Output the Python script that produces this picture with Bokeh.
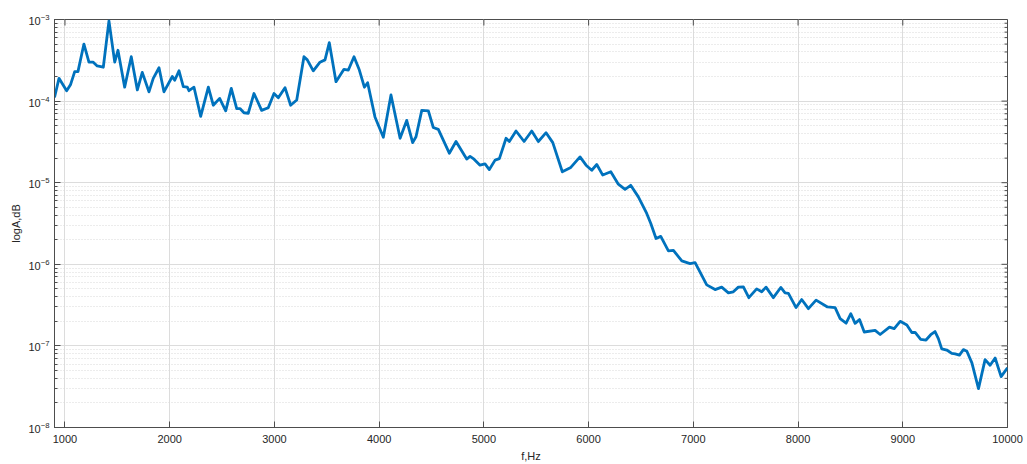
import math

from bokeh.plotting import figure
from bokeh.models import Range1d, FixedTicker, LogTicker
from bokeh.embed import file_html
from bokeh.resources import INLINE

# Spectrum samples: frequency (Hz) and amplitude
freq_hz = [
    900, 943, 1016, 1054, 1093, 1124, 1181, 1229, 1270, 1308, 1366, 1420, 1475, 1506,
    1570, 1633, 1691, 1738, 1802, 1843, 1898, 1945, 2025, 2048, 2089, 2130, 2168, 2184,
    2232, 2296, 2369, 2416, 2477, 2535, 2588, 2640, 2671, 2709, 2750, 2805, 2878, 2941,
    2996, 3037, 3101, 3155, 3213, 3282, 3314, 3371, 3435, 3483, 3524, 3588, 3664, 3706,
    3760, 3811, 3859, 3890, 3960, 4040, 4113, 4200, 4263, 4320, 4352, 4407, 4470, 4517,
    4565, 4670, 4734, 4836, 4868, 4906, 4963, 5011, 5052, 5107, 5148, 5212, 5243, 5307,
    5384, 5457, 5520, 5594, 5658, 5749, 5830, 5918, 5976, 6030, 6078, 6135, 6212, 6284,
    6348, 6402, 6475, 6555, 6594, 6644, 6689, 6762, 6810, 6890, 6969, 7017, 7128, 7208,
    7271, 7335, 7382, 7430, 7478, 7530, 7605, 7653, 7694, 7764, 7835, 7876, 7908, 7981,
    8035, 8099, 8172, 8281, 8354, 8402, 8459, 8504, 8545, 8587, 8632, 8736, 8784, 8873,
    8918, 8975, 9039, 9086, 9118, 9171, 9222, 9267, 9308, 9340, 9372, 9420, 9468, 9500,
    9541, 9579, 9612, 9660, 9723, 9756, 9786, 9834, 9882, 9939, 10000,
]
amplitude = [
    1.11e-4, 1.9e-4, 1.34e-4, 1.6e-4, 2.3e-4, 2.3e-4, 5.0e-4, 3.0e-4, 3.0e-4, 2.7e-4, 2.6e-4, 9.6e-4, 3.0e-4, 4.2e-4,
    1.48e-4, 3.5e-4, 1.37e-4, 2.25e-4, 1.3e-4, 1.9e-4, 2.56e-4, 1.3e-4, 2.0e-4, 1.8e-4, 2.35e-4, 1.5e-4, 1.48e-4, 1.34e-4,
    1.48e-4, 6.5e-5, 1.48e-4, 8.9e-5, 1.08e-4, 7.6e-5, 1.43e-4, 8.1e-5, 8.1e-5, 7.2e-5, 7.1e-5, 1.24e-4, 7.7e-5, 8.3e-5,
    1.24e-4, 1.1e-4, 1.46e-4, 8.9e-5, 1.03e-4, 3.5e-4, 3.2e-4, 2.35e-4, 3.0e-4, 3.2e-4, 5.2e-4, 1.73e-4, 2.45e-4, 2.4e-4,
    3.5e-4, 2.4e-4, 1.48e-4, 1.68e-4, 6.4e-5, 3.6e-5, 1.19e-4, 3.5e-5, 5.8e-5, 3.1e-5, 3.65e-5, 7.7e-5, 7.6e-5, 4.75e-5,
    4.5e-5, 2.3e-5, 3.2e-5, 1.95e-5, 2.1e-5, 1.94e-5, 1.64e-5, 1.7e-5, 1.45e-5, 1.89e-5, 1.97e-5, 3.5e-5, 3.2e-5, 4.3e-5,
    3.2e-5, 4.3e-5, 3.2e-5, 4.1e-5, 3.1e-5, 1.36e-5, 1.54e-5, 2.07e-5, 1.64e-5, 1.42e-5, 1.67e-5, 1.24e-5, 1.36e-5, 9.6e-6,
    8.3e-6, 9.3e-6, 6.7e-6, 4.2e-6, 3.16e-6, 2.07e-6, 2.2e-6, 1.46e-6, 1.48e-6, 1.1e-6, 1.02e-6, 1.05e-6, 5.6e-7, 4.9e-7,
    5.25e-7, 4.46e-7, 4.6e-7, 5.25e-7, 5.3e-7, 3.9e-7, 5.0e-7, 4.6e-7, 5.25e-7, 3.9e-7, 5.2e-7, 4.46e-7, 4.4e-7, 2.95e-7,
    3.7e-7, 2.86e-7, 3.64e-7, 3.0e-7, 2.95e-7, 2.16e-7, 1.9e-7, 2.48e-7, 1.89e-7, 2.1e-7, 1.48e-7, 1.55e-7, 1.38e-7, 1.7e-7,
    1.63e-7, 2.0e-7, 1.8e-7, 1.46e-7, 1.46e-7, 1.2e-7, 1.18e-7, 1.37e-7, 1.5e-7, 1.23e-7, 9.2e-8, 8.9e-8, 8.1e-8, 8.0e-8,
    7.7e-8, 9.0e-8, 8.6e-8, 6.2e-8, 3.0e-8, 4.6e-8, 6.8e-8, 5.8e-8, 7.1e-8, 4.2e-8, 5.4e-8,
]
assert len(freq_hz) == len(amplitude), (len(freq_hz), len(amplitude))

x_ticks = [1000, 2000, 3000, 4000, 5000, 6000, 7000, 8000, 9000, 10000]
y_decades = [1e-8, 1e-7, 1e-6, 1e-5, 1e-4, 1e-3]
x_limits = (900, 10000)
y_limits = (1e-8, 1e-3)

FONT = "Liberation Sans"
AXIS_COLOR = "#4d4d4d"
TEXT_COLOR = "#262626"

p = figure(
    width=1027, height=464, output_backend="svg", toolbar_location=None,
    x_range=Range1d(*x_limits), y_range=Range1d(*y_limits), y_axis_type="log",
    min_border_left=54, min_border_right=20, min_border_top=19, min_border_bottom=37,
    background_fill_color="white", border_fill_color="white",
)
p.outline_line_color = AXIS_COLOR
p.outline_line_width = 1

# grid: solid major lines, dotted minor lines on the log axis
p.xgrid.grid_line_color = "#dcdcdc"
p.ygrid.grid_line_color = "#dcdcdc"
p.xgrid.minor_grid_line_color = None
p.ygrid.minor_grid_line_color = "#d9d9d9"
p.ygrid.minor_grid_line_dash = "1 2"

x_ticker = FixedTicker(ticks=x_ticks, minor_ticks=[])
y_ticker = LogTicker(num_minor_ticks=10)
p.xaxis.ticker = x_ticker
p.yaxis.ticker = y_ticker
p.xgrid.ticker = x_ticker
p.ygrid.ticker = y_ticker

for ax in (p.xaxis[0], p.yaxis[0]):
    ax.axis_line_color = AXIS_COLOR
    ax.major_tick_line_color = AXIS_COLOR
    ax.minor_tick_line_color = AXIS_COLOR
    ax.major_tick_in = 6
    ax.major_tick_out = 0
    ax.minor_tick_in = 3
    ax.minor_tick_out = 0
    ax.major_label_text_font = FONT
    ax.major_label_text_font_size = "11px"
    ax.major_label_text_color = TEXT_COLOR
    ax.axis_label_text_font = FONT
    ax.axis_label_text_font_size = "11px"
    ax.axis_label_text_font_style = "normal"
    ax.axis_label_text_color = TEXT_COLOR

p.xaxis.axis_label = "f,Hz"
p.yaxis.axis_label = "logA,dB"
p.xaxis.major_label_standoff = 7
p.yaxis.major_label_standoff = 5
p.xaxis.axis_label_standoff = 4
p.yaxis.axis_label_standoff = 3

# inward ticks along the top and right edges of the box
y_minor = [d * k for d in y_decades[:-1] for k in range(2, 10)]
p.ray(x=x_ticks, y=[y_limits[1]] * len(x_ticks), length=6, length_units="screen",
      angle=-math.pi / 2, line_color=AXIS_COLOR, line_width=1)
p.ray(x=[x_limits[1]] * len(y_decades), y=y_decades, length=6, length_units="screen",
      angle=math.pi, line_color=AXIS_COLOR, line_width=1)
p.ray(x=[x_limits[1]] * len(y_minor), y=y_minor, length=3, length_units="screen",
      angle=math.pi, line_color=AXIS_COLOR, line_width=1)

p.line(freq_hz, amplitude, line_width=2.8, line_color="#0072BD", line_join="round")

open("out.html", "w").write(file_html(p, INLINE))
